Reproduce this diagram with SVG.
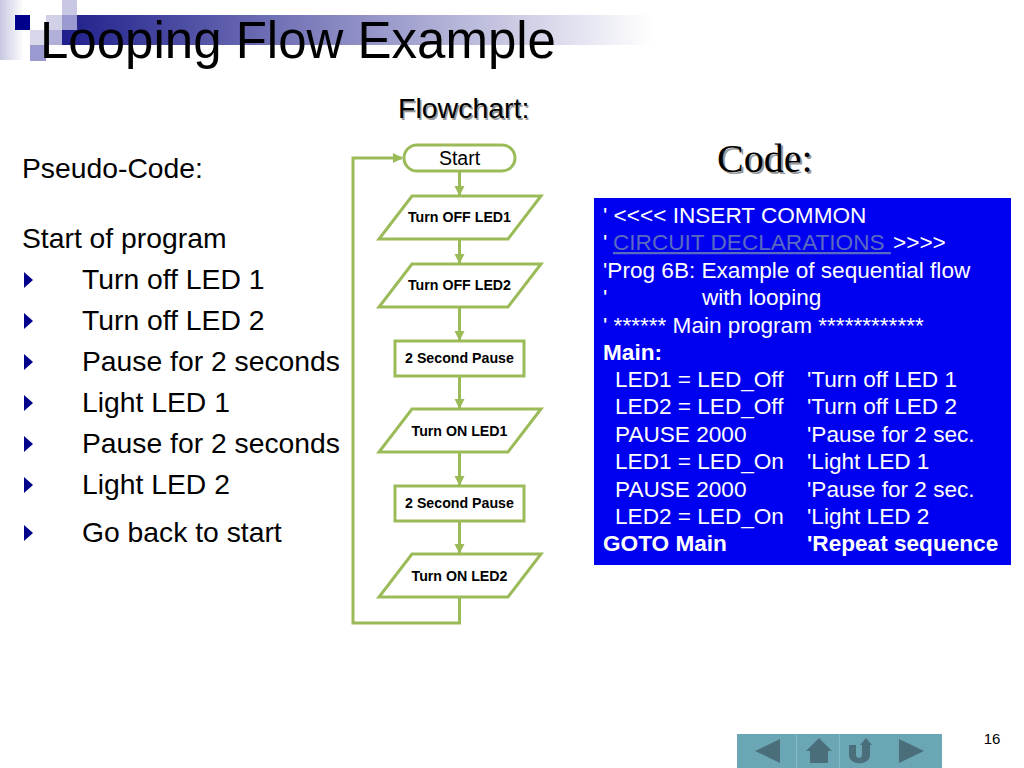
<svg xmlns="http://www.w3.org/2000/svg" width="1024" height="768" viewBox="0 0 1024 768">
<style>
text{font-family:"Liberation Sans",Arial,sans-serif;fill:#000}
.body{font-size:28.300px}
.code{font-size:22.600px;fill:#fff}
.b{font-weight:bold}
.shape{fill:#fff;stroke:#9bbb59;stroke-width:3}
.lbl{font-size:14.200px;font-weight:bold;text-anchor:middle}
.conn{fill:none;stroke:#9bbb59;stroke-width:3}
.nav{fill:#4a6f7b}
</style>
<defs>
<linearGradient id="bar" x1="0" x2="1" y1="0" y2="0"><stop offset="0" stop-color="#1f1f8c"/><stop offset="1" stop-color="#ffffff"/></linearGradient>
<linearGradient id="side" x1="0" x2="1" y1="0" y2="0"><stop offset="0" stop-color="#c8c8e2"/><stop offset="1" stop-color="#ffffff"/></linearGradient>
<marker id="arrow" markerUnits="userSpaceOnUse" markerWidth="12" markerHeight="12" refX="9" refY="5" orient="auto"><path d="M0 0L10 5L0 10Z" fill="#9bbb59"/></marker>
</defs>
<g id="header">
<rect x="0" y="0" width="24" height="60" fill="url(#side)"/>
<rect x="62" y="15" width="590" height="30" fill="url(#bar)"/>
<rect x="15" y="15" width="15" height="15" fill="#00008b"/>
<rect x="62" y="0" width="15" height="15" fill="#c8c8e4"/>
<rect x="46" y="15" width="16" height="15" fill="#d0d0e6"/>
<rect x="62" y="15" width="15" height="15" fill="#9a9ad0"/>
<rect x="30" y="30" width="16" height="15" fill="#d8d8ea"/>
<rect x="46" y="30" width="16" height="15" fill="#b0b0d8"/>
<rect x="30" y="45" width="16" height="16" fill="#9a9ad0"/>
</g>
<text x="40" y="58" font-size="51">Looping Flow Example</text>
<text x="398" y="118" font-size="28.500" style="fill:#9a9a9a" transform="translate(1.500 1.500)">Flowchart:</text>
<text x="398" y="118" font-size="28.500">Flowchart:</text>
<text x="717" y="172" font-size="40" style="font-family:'Liberation Serif',serif;fill:#999" transform="translate(2 2)">Code:</text>
<text x="717" y="172" font-size="40" style="font-family:'Liberation Serif',serif">Code:</text>
<g id="pseudo">
<text class="body" x="22" y="178">Pseudo-Code:</text>
<text class="body" x="22" y="248">Start of program</text>
<text class="body" x="82" y="289">Turn off LED 1</text>
<text class="body" x="82" y="330">Turn off LED 2</text>
<text class="body" x="82" y="371">Pause for 2 seconds</text>
<text class="body" x="82" y="412">Light LED 1</text>
<text class="body" x="82" y="453">Pause for 2 seconds</text>
<text class="body" x="82" y="494">Light LED 2</text>
<text class="body" x="82" y="542">Go back to start</text>
<g fill="#00008b">
<path d="M24 272L33 280L24 288Z"/>
<path d="M24 313L33 321L24 329Z"/>
<path d="M24 354L33 362L24 370Z"/>
<path d="M24 395L33 403L24 411Z"/>
<path d="M24 436L33 444L24 452Z"/>
<path d="M24 477L33 485L24 493Z"/>
<path d="M24 525L33 533L24 541Z"/>
</g>
</g>
<g id="connectors">
<path class="conn" d="M459.500 171V195" marker-end="url(#arrow)"/>
<path class="conn" d="M459.500 239V263" marker-end="url(#arrow)"/>
<path class="conn" d="M459.500 307V340" marker-end="url(#arrow)"/>
<path class="conn" d="M459.500 376V408" marker-end="url(#arrow)"/>
<path class="conn" d="M459.500 452V485" marker-end="url(#arrow)"/>
<path class="conn" d="M459.500 521V553" marker-end="url(#arrow)"/>
<path class="conn" d="M459.500 597V623H353V158H402" marker-end="url(#arrow)"/>
</g>
<g id="n-start"><rect class="shape" x="404" y="145" width="111" height="26" rx="13"/><text x="459.500" y="165" font-size="19.500" text-anchor="middle">Start</text></g>
<g id="n-off1"><path class="shape" d="M412 196H541L508 239H379Z"/><text class="lbl" x="459.500" y="222">Turn OFF LED1</text></g>
<g id="n-off2"><path class="shape" d="M412 264H541L508 307H379Z"/><text class="lbl" x="459.500" y="290">Turn OFF LED2</text></g>
<g id="n-pause1"><rect class="shape" x="395" y="341" width="129" height="35"/><text class="lbl" x="459.500" y="363">2 Second Pause</text></g>
<g id="n-on1"><path class="shape" d="M412 409H541L508 452H379Z"/><text class="lbl" x="459.500" y="436">Turn ON LED1</text></g>
<g id="n-pause2"><rect class="shape" x="395" y="486" width="129" height="35"/><text class="lbl" x="459.500" y="508">2 Second Pause</text></g>
<g id="n-on2"><path class="shape" d="M412 554H541L508 597H379Z"/><text class="lbl" x="459.500" y="581">Turn ON LED2</text></g>
<g id="code">
<rect x="594" y="198" width="417" height="367" fill="#0000f0"/>
<text class="code" x="603" y="223">' &lt;&lt;&lt;&lt; INSERT COMMON</text>
<text class="code" x="603" y="250">'</text>
<text class="code" x="613" y="250" style="fill:#5a6ac0" text-decoration="underline" xml:space="preserve">CIRCUIT DECLARATIONS </text>
<text class="code" x="893" y="250">&gt;&gt;&gt;&gt;</text>
<text class="code" x="603" y="278">'Prog 6B: Example of sequential flow</text>
<text class="code" x="603" y="305">'</text>
<text class="code" x="702" y="305">with looping</text>
<text class="code" x="603" y="333">' ****** Main program ************</text>
<text class="code b" x="603" y="360">Main:</text>
<text class="code" x="615" y="387">LED1 = LED_Off</text><text class="code" x="807" y="387">'Turn off LED 1</text>
<text class="code" x="615" y="414">LED2 = LED_Off</text><text class="code" x="807" y="414">'Turn off LED 2</text>
<text class="code" x="615" y="442">PAUSE 2000</text><text class="code" x="807" y="442">'Pause for 2 sec.</text>
<text class="code" x="615" y="469">LED1 = LED_On</text><text class="code" x="807" y="469">'Light LED 1</text>
<text class="code" x="615" y="497">PAUSE 2000</text><text class="code" x="807" y="497">'Pause for 2 sec.</text>
<text class="code" x="615" y="524">LED2 = LED_On</text><text class="code" x="807" y="524">'Light LED 2</text>
<text class="code b" x="603" y="551">GOTO Main</text><text class="code b" x="807" y="551">'Repeat sequence</text>
</g>
<g id="nav">
<rect x="737" y="734" width="205" height="34" fill="#6ba6b5"/>
<path d="M796.500 734V768M839.500 734V768" stroke="#86b9c6" stroke-width="1"/>
<path class="nav" d="M755 751L780 739V763Z"/>
<path class="nav" d="M806 751L819 738L832 751ZM810 751H828V763H810Z"/>
<path class="nav" d="M849 745H856V755C856 759 862 759 862 755V745H860L866 738L872 745H870V755C870 766 849 766 849 755Z"/>
<path class="nav" d="M899 739L924 751L899 763Z"/>
</g>
<text x="992" y="744" font-size="15" text-anchor="middle">16</text>
</svg>
